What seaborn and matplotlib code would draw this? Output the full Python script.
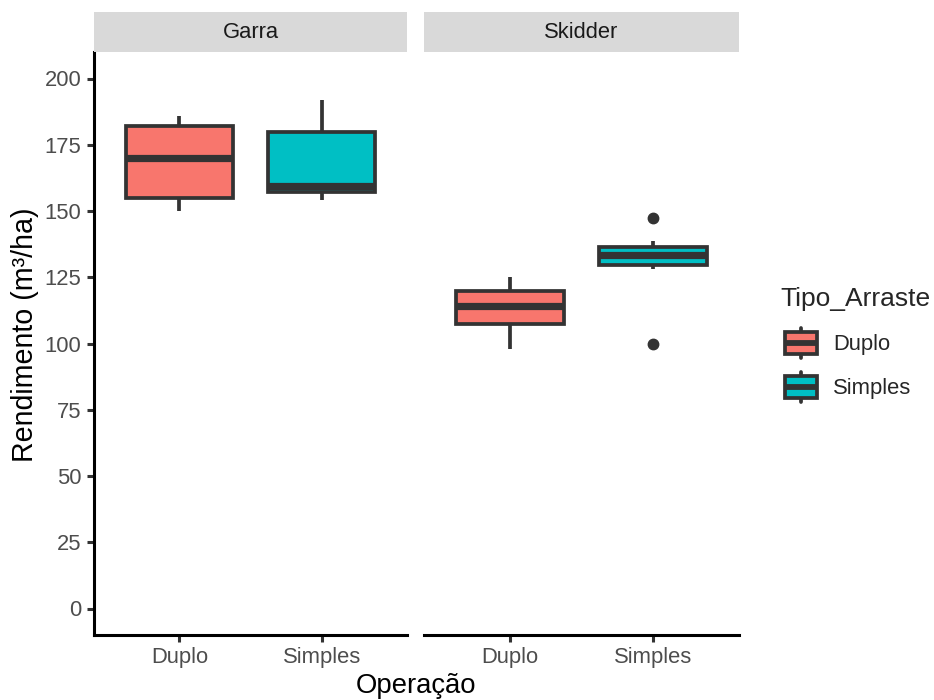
import matplotlib
matplotlib.use("Agg")
import matplotlib.pyplot as plt
import seaborn as sns
import pandas as pd
from matplotlib.legend_handler import HandlerBase
from matplotlib.patches import Rectangle, Patch
from matplotlib.lines import Line2D

# ---- data ----
operacoes = ["Garra", "Skidder"]
tipos = ["Duplo", "Simples"]
garra_duplo = [150, 155, 170, 182, 186]
garra_simples = [154, 157, 159.5, 180, 192]
skidder_duplo = [98, 107.5, 114, 120, 125]
skidder_simples = [100, 128, 129.7, 131.5, 133.5, 135, 136.6, 138.5, 147.5]
y_ticks = [0, 25, 50, 75, 100, 125, 150, 175, 200]

series = {
    ("Garra", "Duplo"): garra_duplo,
    ("Garra", "Simples"): garra_simples,
    ("Skidder", "Duplo"): skidder_duplo,
    ("Skidder", "Simples"): skidder_simples,
}
rows = []
for (op, tp), vals in series.items():
    for v in vals:
        rows.append({"Operacao": op, "Tipo_Arraste": tp, "Rendimento": v})
df = pd.DataFrame(rows)

palette = {"Duplo": "#F8766D", "Simples": "#00BFC4"}
LINE = "#333333"
TXT_GREY = "#4D4D4D"
LW = 2.7

sns.set_style("white")
plt.rcParams["font.family"] = ["Liberation Sans", "DejaVu Sans"]

fig = plt.figure(figsize=(9.34, 7), dpi=100)
W, H = 934, 700

def fx(px):
    return px / W

def fy(py):
    return 1 - py / H

panels = [(94, 407), (424, 739)]
top, bottom = 52, 635
strip_top = 12

for i, (op, (x0, x1)) in enumerate(zip(operacoes, panels)):
    ax = fig.add_axes([fx(x0), fy(bottom), fx(x1 - x0), (bottom - top) / H])
    sub = df[df["Operacao"] == op]
    sns.boxplot(
        data=sub, x="Tipo_Arraste", y="Rendimento", hue="Tipo_Arraste",
        order=tipos, hue_order=tipos, palette=palette, legend=False,
        saturation=1, width=0.75, linecolor=LINE, linewidth=LW,
        showcaps=False,
        medianprops={"linewidth": 5.2, "solid_capstyle": "butt"},
        flierprops={"marker": "o", "markerfacecolor": LINE,
                    "markeredgecolor": LINE, "markersize": 7.5},
        ax=ax,
    )
    ax.set_xlim(-0.6, 1.6)
    ax.set_ylim(-10, 210)
    ax.set_xlabel("")
    ax.set_ylabel("")
    for s in ["top", "right"]:
        ax.spines[s].set_visible(False)
    ax.spines["bottom"].set_color("black")
    ax.spines["bottom"].set_linewidth(2.2)
    ax.tick_params(axis="x", length=5, width=2.2, color=LINE,
                   labelsize=15.8, labelcolor=TXT_GREY, pad=4, bottom=True)
    if i == 0:
        ax.spines["left"].set_color("black")
        ax.spines["left"].set_linewidth(2.2)
        ax.set_yticks(y_ticks)
        ax.tick_params(axis="y", length=5, width=2.2, color=LINE,
                       labelsize=15.8, labelcolor=TXT_GREY, pad=4, left=True)
    else:
        ax.spines["left"].set_visible(False)
        ax.set_yticks([])
    ax.grid(False)

    # facet strip
    sax = fig.add_axes([fx(x0), fy(top), fx(x1 - x0), (top - strip_top) / H])
    sax.set_facecolor("#D9D9D9")
    for s in sax.spines.values():
        s.set_visible(False)
    sax.set_xticks([])
    sax.set_yticks([])
    sax.text(0.5, 0.5, op, ha="center", va="center", fontsize=15.8,
             color="#1A1A1A", transform=sax.transAxes)

fig.text(fx(25), fy(335), "Rendimento (m³/ha)", rotation=90, ha="center",
         va="center", fontsize=20.6, color="black")
fig.text(fx(416), fy(686), "Operação", ha="center", va="center",
         fontsize=19.8, color="black")


class BoxHandler(HandlerBase):
    def create_artists(self, legend, orig_handle, xdescent, ydescent,
                       width, height, fontsize, trans):
        fc = orig_handle.get_facecolor()
        x0 = -xdescent + 3
        y0 = -ydescent
        w = width - 3
        cx = x0 + w / 2
        wl = Line2D([cx, cx], [y0 - 0.16 * height, y0 + 1.16 * height],
                    color=LINE, lw=LW, transform=trans)
        rect = Rectangle((x0, y0), w, height, facecolor=fc,
                         edgecolor=LINE, lw=LW, transform=trans)
        med = Line2D([x0, x0 + w], [y0 + height / 2] * 2, color=LINE,
                     lw=4.2, solid_capstyle="butt", transform=trans)
        return [wl, rect, med]


handles = [Patch(facecolor=palette[t], edgecolor=LINE) for t in tipos]
leg = fig.legend(
    handles, tipos, title="Tipo_Arraste", loc="upper left",
    bbox_to_anchor=(fx(765), fy(272)), frameon=False,
    handler_map={Patch: BoxHandler()}, fontsize=15.8, title_fontsize=19.0,
    handlelength=1.65, handleheight=1.22, labelspacing=0.92,
    handletextpad=0.75, borderpad=0.2,
)
leg._legend_box.align = "left"

fig.savefig("out.png", dpi=100, facecolor="white")
